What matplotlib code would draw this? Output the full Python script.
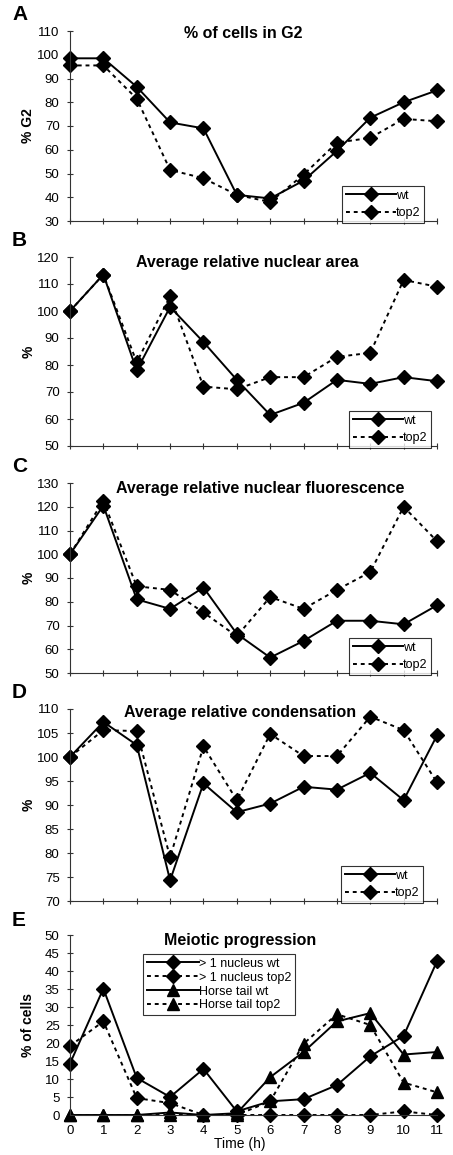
import matplotlib
matplotlib.use('Agg')
import matplotlib.pyplot as plt
import numpy as np

plt.rcParams['font.family'] = ['Liberation Sans', 'DejaVu Sans']

hours = list(range(12))

# A: % of cells in G2
g2_wt = [98.5, 98.5, 86.5, 71.5, 69, 41, 39.5, 47, 59.5, 73.5, 80, 85]
g2_top2 = [95.5, 95.5, 81.5, 51.5, 48, 41, 38, 49.5, 63, 65, 73, 72]
# B: average relative nuclear area
area_wt = [100, 113.5, 78, 101.5, 88.5, 74.5, 61.5, 66, 74.5, 73, 75.5, 74]
area_top2 = [100, 113.5, 81, 105.5, 72, 71, 75.5, 75.5, 83, 84.5, 111.5, 109]
# C: average relative nuclear fluorescence
fluo_wt = [100, 120.5, 81, 77, 86, 66.5, 56.5, 63.5, 72, 72, 70.5, 78.5]
fluo_top2 = [100, 122.5, 86.5, 85, 75.5, 65.5, 82, 77, 85, 92.5, 120, 105.5]
# D: average relative condensation
cond_wt = [100, 107.3, 102.5, 74.3, 94.5, 88.5, 90.3, 93.8, 93.2, 96.7, 91, 104.5]
cond_top2 = [100, 105.6, 105.4, 79.1, 102.2, 91, 104.8, 100.2, 100.2, 108.4, 105.6, 94.7]
# E: meiotic progression
nuc_wt = [14.3, 35.1, 10.3, 5, 12.8, 1, 3.8, 4.4, 8.3, 16.3, 22, 42.7]
nuc_top2 = [19.2, 26, 4.7, 3.3, 0, 0, 0, 0, 0, 0, 1, 0]
ht_wt = [0, 0, 0, 0.7, 0, 0.5, 10.5, 17.5, 26, 28.3, 16.8, 17.5]
ht_top2 = [0, 0, 0, 0, 0, 0, 3.8, 19.8, 28, 25, 9, 6.3]

W, H = 453, 1155
fig = plt.figure(figsize=(W / 100, H / 100), dpi=100)

left, right = 70, 437


def make_axes(top, bottom):
    return fig.add_axes([left / W, 1 - bottom / H, (right - left) / W, (bottom - top) / H])


def style_axes(ax):
    for s in ['top', 'right']:
        ax.spines[s].set_visible(False)
    for s in ['left', 'bottom']:
        ax.spines[s].set_linewidth(0.8)
        ax.spines[s].set_color('#333333')
    ax.tick_params(axis='both', direction='inout', length=5, width=0.8,
                   color='#333333', labelsize=9.5)
    ax.tick_params(axis='y', pad=5)


def style_legend(leg):
    leg.get_frame().set_edgecolor('black')
    leg.get_frame().set_linewidth(0.8)


dash = (0, (2, 2))
common = dict(color='black', lw=1.4, clip_on=False)

panels = [
    # letter, title, ylabel, (top, bottom), ylim, step, series, title xy, legend anchor
    ('A', '% of cells in G2', '% G2', (31, 221), (30, 110), 10,
     [g2_wt, g2_top2], (243, 34), (0.965, -0.01)),
    ('B', 'Average relative nuclear area', '%', (257, 446), (50, 120), 10,
     [area_wt, area_top2], (247, 262), (0.984, -0.01)),
    ('C', 'Average relative nuclear fluorescence', '%', (483, 673), (50, 130), 10,
     [fluo_wt, fluo_top2], (260, 488), (0.984, -0.01)),
    ('D', 'Average relative condensation', '%', (709, 901), (70, 110), 5,
     [cond_wt, cond_top2], (240, 713), (0.962, -0.01)),
]

for letter, title, ylab, (top, bottom), ylim, step, series, (tx, ty), lbox in panels:
    ax = make_axes(top, bottom)
    ax.plot(hours, series[0], marker='D', ms=7, ls='-', label='wt', **common)
    ax.plot(hours, series[1], marker='D', ms=7, ls=dash, label='top2', **common)
    ax.set_xlim(0, 11)
    ax.set_ylim(*ylim)
    ax.set_yticks(np.arange(ylim[0], ylim[1] + 1, step))
    ax.set_xticks(hours)
    ax.set_xticklabels([])
    style_axes(ax)
    ax.set_ylabel(ylab, fontsize=10, fontweight='bold')
    ax.yaxis.set_label_coords(-0.095, 0.5)
    fig.text(tx / W, 1 - ty / H, title, fontsize=11.5, fontweight='bold',
             ha='center', va='center')
    fig.text(12 / W, 1 - (top - 16) / H, letter, fontsize=15, fontweight='bold',
             ha='left', va='center')
    leg = ax.legend(loc='lower right', bbox_to_anchor=lbox, fontsize=9,
                    handlelength=4.0, handletextpad=0.0, frameon=True,
                    fancybox=False, borderpad=0.3, labelspacing=0.45,
                    borderaxespad=0)
    style_legend(leg)

# E
top, bottom = 935, 1115
ax = make_axes(top, bottom)
ax.plot(hours, nuc_wt, marker='D', ms=7, ls='-', label='> 1 nucleus wt', **common)
ax.plot(hours, nuc_top2, marker='D', ms=7, ls=dash, label='> 1 nucleus top2', **common)
ax.plot(hours, ht_wt, marker='^', ms=8, ls='-', label='Horse tail wt', **common)
ax.plot(hours, ht_top2, marker='^', ms=8, ls=dash, label='Horse tail top2', **common)
ax.set_xlim(0, 11)
ax.set_ylim(0, 50)
ax.set_yticks(np.arange(0, 51, 5))
ax.set_xticks(hours)
style_axes(ax)
ax.tick_params(axis='x', pad=5)
ax.set_ylabel('% of cells', fontsize=10, fontweight='bold')
ax.yaxis.set_label_coords(-0.095, 0.5)
ax.set_xlabel('Time (h)', fontsize=10)
ax.xaxis.set_label_coords(0.463, -0.12)
fig.text(240 / W, 1 - 940 / H, 'Meiotic progression', fontsize=11.5, fontweight='bold',
         ha='center', va='center')
fig.text(12 / W, 1 - (top - 14) / H, 'E', fontsize=15, fontweight='bold',
         ha='left', va='center')
leg = ax.legend(loc='upper left', bbox_to_anchor=(0.199, 0.894), fontsize=9,
                handlelength=4.2, handletextpad=0.0, frameon=True,
                fancybox=False, borderpad=0.3, labelspacing=0.15,
                borderaxespad=0)
style_legend(leg)

fig.savefig('out.png', dpi=100)
